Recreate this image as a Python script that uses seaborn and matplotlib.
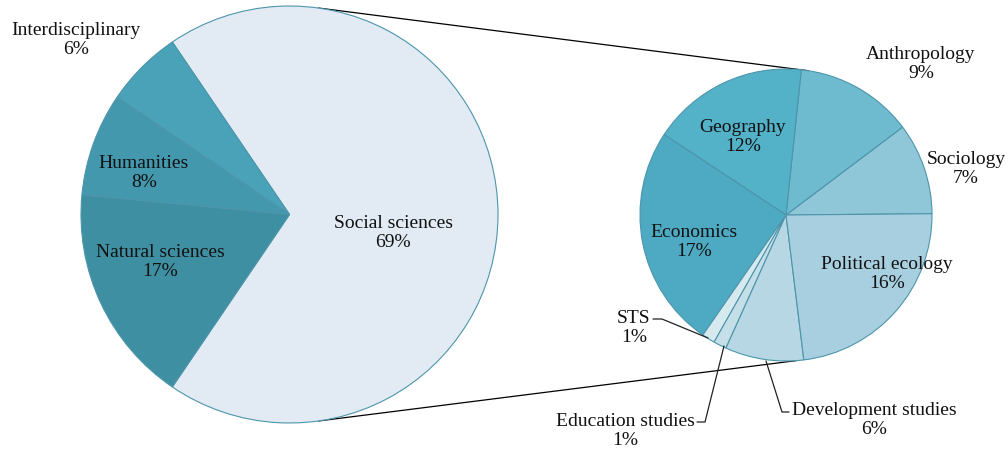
import numpy as np
import matplotlib
matplotlib.use("Agg")
import matplotlib.pyplot as plt
import seaborn as sns

# data
left_labels = ['Social sciences', 'Interdisciplinary', 'Humanities', 'Natural sciences']
left_values = [69, 6, 8, 17]
left_colors = ['#e2ebf3', '#49a2b8', '#4498ae', '#3f8fa2']

right_labels = ['Sociology', 'Anthropology', 'Geography', 'Economics', 'STS',
                'Education studies', 'Development studies', 'Political ecology']
right_values = [7, 9, 12, 17, 1, 1, 6, 16]
right_colors = ['#8fc6d8', '#6ebbd0', '#53b1c8', '#4eaac2', '#d6e9ef',
                '#c5dfe9', '#b7d7e4', '#a8cfe0']

sns.set_theme(style='white')
plt.rcParams['font.family'] = ['Liberation Serif', 'DejaVu Serif']

W, H = 1008, 452


def Y(y):
    # image pixel row -> data y
    return H - y


fig = plt.figure(figsize=(W / 100, H / 100), dpi=100)
ax = fig.add_axes([0, 0, 1, 1])

edge = dict(edgecolor='#4d95ab', linewidth=0.8)

# left pie: social sciences slice centred on the right side
left_c = (289.5, Y(215.5))
left_r = 208.5
start_left = -left_values[0] / sum(left_values) * 360 / 2
ax.pie(left_values, colors=left_colors, startangle=start_left, counterclock=True,
       center=left_c, radius=left_r, wedgeprops=edge, frame=True)

# right pie: breakdown of the social sciences
right_c = (786, Y(216))
right_r = 146
ax.pie(right_values, colors=right_colors, startangle=0.5, counterclock=True,
       center=right_c, radius=right_r, wedgeprops=edge, frame=True)


def on_circle(c, r, ang):
    a = np.deg2rad(ang)
    return c[0] + r * np.cos(a), c[1] + r * np.sin(a)


# connector lines between the pies
for a_left, a_right in [(82, 81), (-82, -86)]:
    p1 = on_circle(left_c, left_r, a_left)
    p2 = on_circle(right_c, right_r, a_right)
    ax.plot([p1[0], p2[0]], [p1[1], p2[1]], color='black', lw=0.9, zorder=0.5)

# labels
label_pos = {
    'Social sciences': (393, 233), 'Interdisciplinary': (76, 40),
    'Humanities': (144, 173), 'Natural sciences': (160, 262),
    'Sociology': (966, 169), 'Anthropology': (921, 64),
    'Geography': (743, 137), 'Economics': (694, 242),
    'STS': (634, 328), 'Education studies': (625, 431),
    'Development studies': (874, 420), 'Political ecology': (887, 274),
}
for lab, val in list(zip(left_labels, left_values)) + list(zip(right_labels, right_values)):
    x, y = label_pos[lab]
    ax.text(x, Y(y), f'{lab}\n{val}%', ha='center', va='center', fontsize=14,
            color='#111111', linespacing=1.15)

# leader lines for the small slices
leaders = [
    [(653, 320), (662, 320), (708, 339)],
    [(697, 423), (705, 423), (724, 347)],
    [(766, 362), (782, 413), (789, 413)],
]
for pts in leaders:
    xs = [p[0] for p in pts]
    ys = [Y(p[1]) for p in pts]
    ax.plot(xs, ys, color='#222222', lw=0.9)

ax.set_xlim(0, W)
ax.set_ylim(0, H)
ax.set_aspect('equal')
ax.axis('off')

fig.savefig('out.png', dpi=100, facecolor='white')
